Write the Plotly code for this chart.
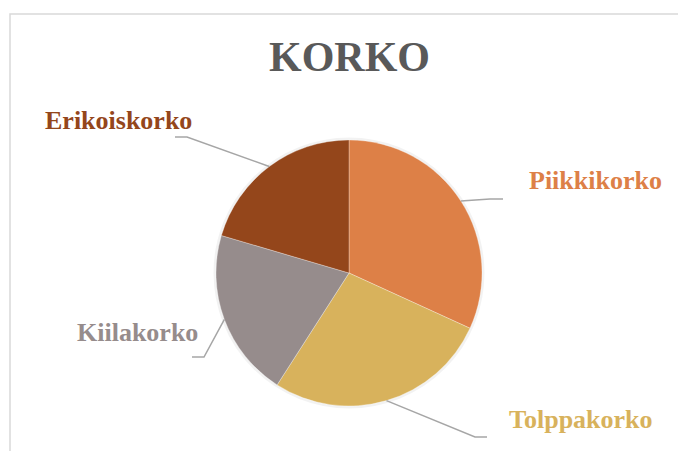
import math
import plotly.graph_objects as go

# ---- data ----
categories = ["Piikkikorko", "Tolppakorko", "Kiilakorko", "Erikoiskorko"]
values = [7, 6, 4.5, 4.5]
title_text = "KORKO"

# ---- style ----
colors = ["#DD8047", "#D8B25C", "#968C8C", "#94461B"]
W, H = 678, 451
cx, cy, r = 349, 273, 133  # pie centre/radius in px (from top-left)
FONT = "Liberation Serif, Times New Roman, serif"


def px(x):
    return x / W


def py(y):
    return (H - y) / H


fig = go.Figure()
fig.add_trace(go.Pie(
    labels=categories, values=values, sort=False, direction="clockwise",
    rotation=0, textinfo="none", hoverinfo="label+value",
    marker=dict(colors=colors, line=dict(color="white", width=0.3)),
    domain=dict(x=[(cx - r) / W, (cx + r) / W],
                y=[(H - cy - r) / H, (H - cy + r) / H]),
    showlegend=False,
))

# label placement (px, from top-left): text anchor position and leader elbow
label_layout = {
    "Piikkikorko": dict(tx=527, ty=180, xanchor="left", elbow=(490, 199), end=(503, 199)),
    "Tolppakorko": dict(tx=507, ty=419, xanchor="left", elbow=(475, 437), end=(487, 437)),
    "Kiilakorko": dict(tx=200, ty=333, xanchor="right", elbow=(204, 357), end=(192, 357)),
    "Erikoiskorko": dict(tx=43, ty=120, xanchor="left", elbow=(187, 137), end=(175, 137)),
}

total = sum(values)
cum = 0.0
shapes = []
annotations = []
for cat, v, col in zip(categories, values, colors):
    mid = (cum + v / 2) / total * 2 * math.pi
    cum += v
    sx = cx + r * math.sin(mid)
    sy = cy - r * math.cos(mid)
    lay = label_layout[cat]
    ex, ey = lay["elbow"]
    fx, fy = lay["end"]
    path = f"M {px(sx)} {py(sy)} L {px(ex)} {py(ey)} L {px(fx)} {py(fy)}"
    shapes.append(dict(type="path", xref="paper", yref="paper", path=path,
                       line=dict(color="#A6A6A6", width=1.5)))
    annotations.append(dict(
        text=f"<b>{cat}</b>", x=px(lay["tx"]), y=py(lay["ty"]),
        xref="paper", yref="paper", xanchor=lay["xanchor"], yanchor="middle",
        showarrow=False, font=dict(family=FONT, size=26, color=col)))

# title
annotations.append(dict(
    text=f"<b>{title_text}</b>", x=px(350), y=py(57), xref="paper", yref="paper",
    xanchor="center", yanchor="middle", showarrow=False,
    font=dict(family=FONT, size=42, color="#595959")))

# soft shadow around the pie
shapes.insert(0, dict(type="circle", xref="paper", yref="paper",
                      x0=(cx - r - 1) / W, x1=(cx + r + 1) / W,
                      y0=(H - cy - r - 1) / H, y1=(H - cy + r + 1) / H,
                      line=dict(color="rgba(0,0,0,0.05)", width=3),
                      fillcolor="rgba(0,0,0,0)", layer="below"))

# chart border (continues past the right and bottom edges)
shapes.insert(0, dict(type="rect", xref="paper", yref="paper",
                      x0=px(10), x1=px(700), y0=py(480), y1=py(14),
                      line=dict(color="#D9D9D9", width=1.5), fillcolor="rgba(0,0,0,0)",
                      layer="below"))

fig.update_layout(
    width=W, height=H, margin=dict(l=0, r=0, t=0, b=0),
    paper_bgcolor="white", plot_bgcolor="white",
    shapes=shapes, annotations=annotations,
)

fig.write_html("out.html", config={"displayModeBar": False},
               post_script="document.body.style.margin='0';document.body.style.overflow='hidden';")
